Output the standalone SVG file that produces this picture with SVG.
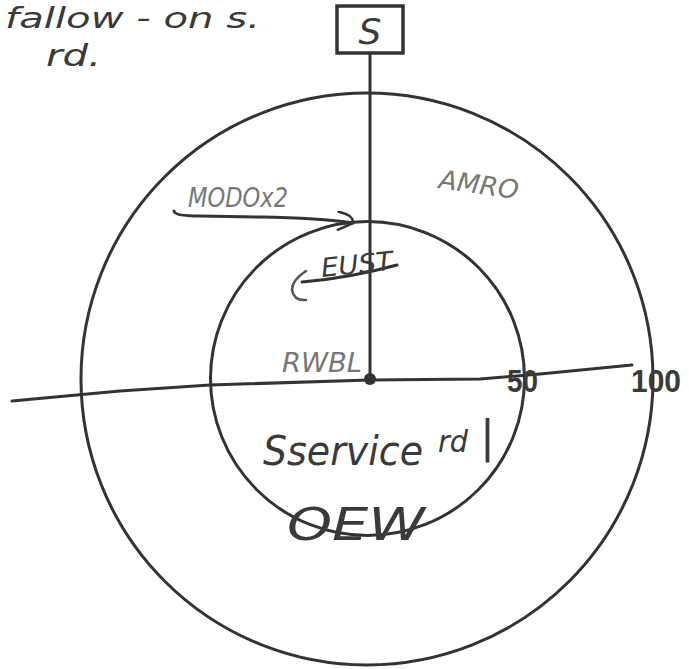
<svg xmlns="http://www.w3.org/2000/svg" width="689" height="669" viewBox="0 0 689 669">
<style>
.ring{fill:none;stroke:#333;stroke-width:3}
.ln{fill:none;stroke:#333;stroke-width:3;stroke-linecap:round;stroke-linejoin:round}
.pen{fill:none;stroke:#555;stroke-width:2.5;stroke-linecap:round;stroke-linejoin:round}
.hw{font-family:"DejaVu Sans","Liberation Sans",sans-serif;font-style:italic}
.dark{fill:#3a3a3a}
.grey{fill:#777}
.num{font-family:"Liberation Sans",Arial,sans-serif;font-weight:bold;fill:#3a3a3a;font-size:31px}
</style>
<defs>
<marker id="hook" viewBox="0 0 20 20" refX="18" refY="10" markerWidth="20" markerHeight="20" markerUnits="userSpaceOnUse" orient="auto">
<path d="M2,1 Q18,2 18,10 M18,10 L4,19" fill="none" stroke="#333" stroke-width="2.5" stroke-linecap="round"/>
</marker>
</defs>
<rect width="689" height="669" fill="#fff"/>
<g id="outer-ring"><circle class="ring" cx="367" cy="379" r="286"/></g>
<g id="inner-ring"><circle class="ring" cx="367.5" cy="378.5" r="157"/></g>
<g id="connectors">
<path class="ln" d="M370,53 L370,379"/>
<path class="ln" d="M12,401 L120,391 L210,385 L370,380 L480,379 L540,374 L632,365"/>
<path class="ln" d="M174,211 Q174,216 200,216 L260,217 Q320,218 353,223" marker-end="url(#hook)"/>
<path class="ln" d="M302,282 Q350,278 397,265"/>
<path class="pen" stroke="#888" d="M306,271 Q292,280 292,290 Q294,301 306,300"/>
</g>
<g id="node-S">
<rect x="337" y="6" width="66" height="47" fill="#fff" stroke="#333" stroke-width="3.5"/>
<text class="hw dark" x="370" y="44" font-size="36" text-anchor="middle">S</text>
</g>
<g id="center"><circle cx="370" cy="379" r="6" fill="#333"/></g>
<g id="labels">
<text class="hw dark" x="5" y="28" font-size="28" textLength="255" lengthAdjust="spacingAndGlyphs">fallow - on s.</text>
<text class="hw dark" x="46" y="66" font-size="30" textLength="55" lengthAdjust="spacingAndGlyphs">rd.</text>
<text class="hw grey" x="188" y="207" font-size="26" textLength="100" lengthAdjust="spacingAndGlyphs">MODOx2</text>
<text class="hw grey" x="438" y="188" font-size="26" textLength="80" lengthAdjust="spacingAndGlyphs" transform="rotate(8 438 188)">AMRO</text>
<text class="hw dark" x="322" y="277" font-size="26" textLength="72" lengthAdjust="spacingAndGlyphs" transform="rotate(-6 322 277)">EUST</text>
<text class="hw grey" x="282" y="372" font-size="27" textLength="80" lengthAdjust="spacingAndGlyphs">RWBL</text>
<text class="hw dark" x="263" y="465" font-size="40" textLength="160" lengthAdjust="spacingAndGlyphs">Sservice</text>
<text class="hw dark" x="438" y="452" font-size="30" textLength="30" lengthAdjust="spacingAndGlyphs">rd</text>
<text class="hw dark" x="480" y="452" font-size="44">|</text>
<text class="hw dark" x="287" y="540" font-size="44" textLength="138" lengthAdjust="spacingAndGlyphs">OEW</text>
<text class="num" x="507" y="392" textLength="31" lengthAdjust="spacingAndGlyphs">50</text>
<text class="num" x="631" y="392" textLength="50" lengthAdjust="spacingAndGlyphs">100</text>
</g>
</svg>
